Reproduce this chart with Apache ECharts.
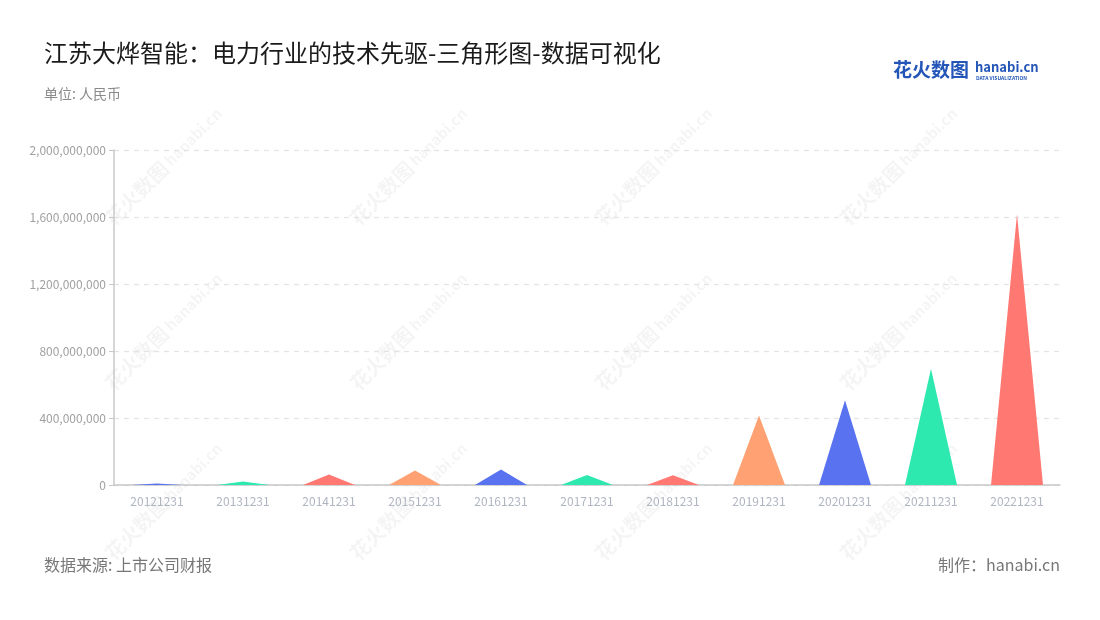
<!DOCTYPE html>
<html>
<head>
<meta charset="utf-8">
<script src="https://cdn.jsdelivr.net/npm/echarts@6/dist/echarts.min.js"></script>
<style>
html,body{margin:0;padding:0;background:#fff;}
#c{width:1100px;height:620px;}
</style>
</head>
<body>
<div id="c"></div>
<script>
const categories = ['20121231','20131231','20141231','20151231','20161231','20171231','20181231','20191231','20201231','20211231','20221231'];
const values = [9000000, 21000000, 63000000, 87000000, 93000000, 59000000, 58000000, 415000000, 506000000, 694000000, 1616000000];
const yTicks = [0, 400000000, 800000000, 1200000000, 1600000000, 2000000000];
const palette = ['#5872F0', '#2DE8AF', '#FF7872', '#FFA172'];

const FONT = '"Noto Sans CJK SC", "Noto Sans", sans-serif';
const chart = echarts.init(document.getElementById('c'), null, {renderer: 'canvas'});

const wm = [];
const wmX = [165, 410, 655, 900];
const wmY = [165, 330, 500];
wmY.forEach(function (y) {
  wmX.forEach(function (x) {
    wm.push({
      type: 'group', x: x, y: y, rotation: Math.PI / 4, silent: true, z: -10,
      children: [
        {type: 'text', style: {text: '花火数图', x: 0, y: 0, font: 'bold 20px ' + FONT, fill: 'rgba(0,0,0,0.045)', align: 'center', verticalAlign: 'middle'}, x: -40},
        {type: 'text', style: {text: 'hanabi.cn', x: 0, y: 0, font: 'bold 15px ' + FONT, fill: 'rgba(0,0,0,0.045)', align: 'center', verticalAlign: 'middle'}, x: 40}
      ]
    });
  });
});

chart.setOption({
  backgroundColor: '#ffffff',
  animation: false,
  textStyle: {fontFamily: FONT},
  grid: {left: 114, right: 40, top: 150, bottom: 135},
  xAxis: {
    type: 'category',
    data: categories,
    axisLine: {lineStyle: {color: '#c8c8c8', width: 1.5}},
    axisTick: {alignWithLabel: true, lineStyle: {color: '#c8c8c8'}},
    axisLabel: {color: '#b0b5c2', fontSize: 12, margin: 10, fontFamily: FONT}
  },
  yAxis: {
    type: 'value',
    min: yTicks[0],
    max: yTicks[yTicks.length - 1],
    interval: yTicks[1] - yTicks[0],
    axisLine: {show: true, lineStyle: {color: '#c8c8c8', width: 1.5}},
    axisTick: {show: true, length: 5, lineStyle: {color: '#c8c8c8'}},
    axisLabel: {
      color: '#a0a0a0', fontSize: 12, margin: 8, fontFamily: FONT,
      formatter: function (v) { return Number(v).toLocaleString('en-US'); }
    },
    splitLine: {lineStyle: {color: '#e4e4e4', type: [5, 5], width: 1.3}}
  },
  series: [{
    type: 'pictorialBar',
    symbol: 'path://M0,10 L5,0 L10,10 Z',
    barWidth: 52,
    data: values.map(function (v, i) {
      return {value: v, itemStyle: {color: palette[i % palette.length]}};
    })
  }],
  graphic: wm.concat([
    {type: 'text', left: 44, top: 41, style: {text: '江苏大烨智能：电力行业的技术先驱-三角形图-数据可视化', font: '24px ' + FONT, fill: '#1a1a1a'}},
    {type: 'text', left: 44, top: 87, style: {text: '单位: 人民币', font: '14px ' + FONT, fill: '#8a8a8a'}},
    {type: 'text', left: 44, top: 557, style: {text: '数据来源: 上市公司财报', font: '16px ' + FONT, fill: '#777777'}},
    {type: 'text', right: 40, top: 557, style: {text: '制作：hanabi.cn', font: '16px ' + FONT, fill: '#777777'}},
    {type: 'text', left: 893, top: 60, style: {text: '花火数图', font: 'bold 19px ' + FONT, fill: '#2356b8'}},
    {type: 'text', left: 975, top: 61, style: {text: 'hanabi.cn', font: 'bold 13px ' + FONT, fill: '#2356b8'}},
    {type: 'text', left: 976, top: 76, style: {text: 'DATA VISUALIZATION', font: 'bold 5px ' + FONT, fill: '#2356b8'}}
  ])
});
</script>
</body>
</html>
